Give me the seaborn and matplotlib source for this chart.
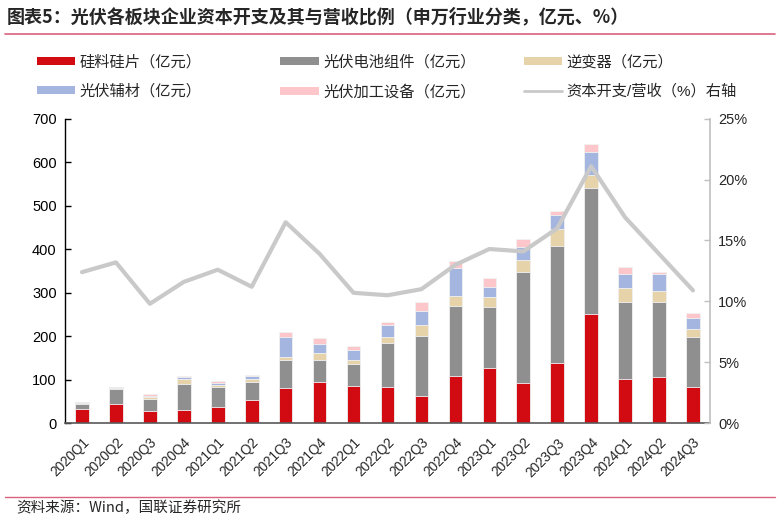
import matplotlib
matplotlib.use("Agg")
import matplotlib.pyplot as plt
from matplotlib.lines import Line2D
from matplotlib.patches import Patch
import numpy as np
import pandas as pd
import seaborn as sns

quarters = ['2020Q1', '2020Q2', '2020Q3', '2020Q4', '2021Q1', '2021Q2', '2021Q3', '2021Q4',
            '2022Q1', '2022Q2', '2022Q3', '2022Q4', '2023Q1', '2023Q2', '2023Q3', '2023Q4',
            '2024Q1', '2024Q2', '2024Q3']
silicon = [33, 44, 27, 31, 36, 53, 81, 94, 86, 84, 63, 108, 126, 93, 138, 252, 101, 105, 83]
modules = [11, 35, 29, 58, 48, 42, 63, 50, 49, 101, 138, 161, 140, 255, 270, 289, 178, 174, 116]
inverter = [1, 1, 3, 12, 4, 7, 9, 17, 10, 12, 24, 24, 23, 28, 38, 30, 31, 25, 18]
auxiliary = [3, 3, 4, 5, 5, 6, 44, 22, 22, 28, 33, 63, 25, 29, 32, 52, 32, 38, 25]
equipment = [1, 1, 3, 3, 3, 2, 12, 12, 10, 8, 20, 17, 20, 18, 9, 18, 17, 6, 12]
capex_ratio = [12.4, 13.2, 9.8, 11.6, 12.6, 11.2, 16.5, 13.9, 10.7, 10.5, 11.0, 13.0,
               14.3, 14.1, 16.0, 21.1, 16.9, 13.9, 10.9]

series_names = ['硅料硅片（亿元）', '光伏电池组件（亿元）', '逆变器（亿元）',
                '光伏辅材（亿元）', '光伏加工设备（亿元）']
line_name = '资本开支/营收（%）右轴'
colors = ['#d20a11', '#8f8f8f', '#e6d3aa', '#a4b5df', '#fdc6ca']
line_color = '#c9c9c9'

sns.set_theme(style='white')
plt.rcParams['font.family'] = ['Liberation Sans', 'Noto Sans CJK SC']
plt.rcParams['axes.unicode_minus'] = False

df = pd.DataFrame({'quarter': quarters})
stack = np.cumsum(np.array([silicon, modules, inverter, auxiliary, equipment]), axis=0)

fig = plt.figure(figsize=(7.77, 5.21), dpi=100)
ax = fig.add_axes([0.0837, 0.188, 0.83, 0.584])

# stacked bars: draw cumulative totals from the top segment down
for i in range(len(series_names) - 1, -1, -1):
    df['v'] = stack[i]
    sns.barplot(data=df, x='quarter', y='v', order=quarters, color=colors[i], saturation=1,
                width=0.4, edgecolor='#f2f2f2', linewidth=0.6, ax=ax)

ax.set_xlim(-0.5, len(quarters) - 0.5)
ax.set_ylim(0, 700)
ax.set_yticks(np.arange(0, 701, 100))
ax.set_xlabel(None)
ax.set_ylabel(None)
ax.tick_params(axis='y', direction='in', length=4, width=1, colors='black', labelsize=10.5, pad=6)
ax.tick_params(axis='x', which='major', length=0, labelsize=9.8, pad=9)
ax.set_xticks(np.arange(-0.5, len(quarters), 1), minor=True)
ax.tick_params(axis='x', which='minor', direction='in', length=4, width=1, color='#404040')
plt.setp(ax.get_xticklabels(), rotation=45, ha='right', rotation_mode='anchor')
for s in ['top', 'right']:
    ax.spines[s].set_visible(False)
ax.spines['left'].set_color('black')
ax.spines['left'].set_linewidth(1)
ax.spines['bottom'].set_color('#595959')
ax.spines['bottom'].set_linewidth(1.2)

ax2 = ax.twinx()
sns.lineplot(x=np.arange(len(quarters)), y=capex_ratio, color=line_color, linewidth=3, ax=ax2)
ax2.set_ylim(0, 25)
ax2.set_yticks(np.arange(0, 26, 5))
ax2.set_yticklabels([f'{t}%' for t in range(0, 26, 5)])
ax2.tick_params(axis='y', direction='in', length=4, width=1, color='#bfbfbf', labelsize=10.5, pad=6)
for s in ['top', 'left', 'bottom']:
    ax2.spines[s].set_visible(False)
ax2.spines['right'].set_color('#bfbfbf')
ax2.spines['right'].set_linewidth(1.2)
ax2.set_xlim(-0.5, len(quarters) - 0.5)

# legends, three columns
handles = [Patch(facecolor=c, edgecolor='none') for c in colors]
handles.append(Line2D([], [], color=line_color, linewidth=2))
labels = series_names + [line_name]
col_x = [0.047, 0.361, 0.674]
for k in range(3):
    fig.legend([handles[k], handles[k + 3]], [labels[k], labels[k + 3]],
               loc='upper left', bbox_to_anchor=(col_x[k], 0.895), frameon=False,
               fontsize=11, handlelength=2.5, handleheight=0.45, handletextpad=0.3,
               labelspacing=0.98, borderaxespad=0, borderpad=0)

fig.text(0.008, 0.967, '图表5：光伏各板块企业资本开支及其与营收比例（申万行业分类，亿元、%）',
         fontsize=13, fontweight='bold', ha='left', va='center', family=['Noto Sans CJK SC'])
fig.add_artist(Line2D([0.006, 0.997], [0.935, 0.935], color='#d9627e', linewidth=1.2))
fig.add_artist(Line2D([0.006, 0.997], [0.047, 0.047], color='#d9627e', linewidth=1.0))
fig.text(0.021, 0.025, '资料来源：Wind，国联证券研究所', fontsize=10.5, ha='left', va='center',
         family=['Noto Sans CJK SC', 'DejaVu Sans'])

fig.savefig('out.png', dpi=100)
